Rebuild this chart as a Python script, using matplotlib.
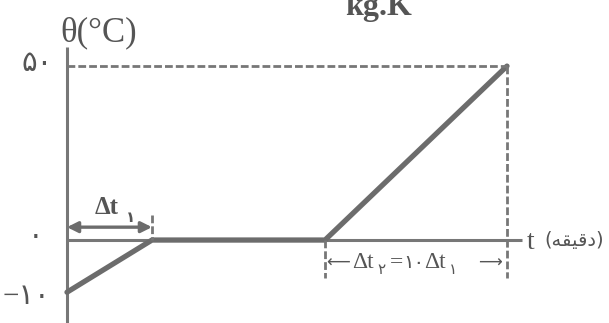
"""
Heating curve of ice: temperature vs time (schematic textbook figure).

Renders out.png (609x323 px).
"""

import matplotlib

matplotlib.use("Agg")
import matplotlib.pyplot as plt
import numpy as np

# ------------------------------------------------------------------ #
# data (time in units of dt1, temperature in C)
times = [0.0, 1.0, 3.035, 5.176]
temps = [-10, 0, 0, 50]

tick_values = [50, 0, -10]
tick_labels = ["۵۰", "۰", "−۱۰"]

x_unit = "t"
x_unit_fa = "(\uFEEA\uFED8\uFEF4\uFED7\uFEA9)"   # (دقیقه) in visual order
y_label = "θ(°C)"

# negative temperatures are drawn stretched in the original sketch
NEG_STRETCH = 1.5

LINE = "#6c6c6c"
DASH = "#777777"
TEXT = "#555555"
SERIF = ["Liberation Serif", "DejaVu Sans"]
SANS = ["DejaVu Sans"]


def forward(y):
    y = np.asarray(y, dtype=float)
    return np.where(y >= 0, y, y * NEG_STRETCH)


def inverse(y):
    y = np.asarray(y, dtype=float)
    return np.where(y >= 0, y, y / NEG_STRETCH)


def main() -> None:
    fig = plt.figure(figsize=(6.09, 3.23), dpi=100)
    ax = fig.add_axes([0, 0, 1, 1])
    ax.set_yscale("function", functions=(forward, inverse))
    ax.set_xlim(-0.788, 6.376)
    ax.set_ylim(-15.9, 69.0)
    ax.axis("off")

    t0, t_ice, t_melt, t_end = times
    top = temps[-1]

    # axes drawn as plain lines
    ax.plot([0, 0], [-15.9, 55.5], color=DASH, lw=2.2, solid_capstyle="butt")
    ax.plot([0, 5.35], [0, 0], color=DASH, lw=2.2, solid_capstyle="butt")

    # heating curve
    ax.plot(times, temps, color=LINE, lw=3.8, solid_capstyle="round",
            solid_joinstyle="round")

    # dashed guides
    dash = (0, (2.8, 1.1))
    ax.plot([0, t_end], [top, top], color=DASH, lw=2.0, ls=dash)
    ax.plot([t_end, t_end], [top, -7.3], color=DASH, lw=2.0, ls=dash)
    ax.plot([t_melt, t_melt], [0, -7.3], color=DASH, lw=2.0, ls=dash)
    ax.plot([t_ice, t_ice], [7.2, 0], color=DASH, lw=2.0, ls=dash)

    # delta t1 double arrow
    ax.annotate("", xy=(t_ice, 3.7), xytext=(t0, 3.7),
                arrowprops=dict(arrowstyle="<|-|>", color=LINE, lw=2.4,
                                mutation_scale=16, shrinkA=0, shrinkB=0))
    ax.text(0.33, 9.4, "Δt", family=SERIF, fontsize=18, weight="bold",
            color=TEXT, ha="left", va="center")
    ax.text(0.69, 6.6, "۱", family=SANS, fontsize=11, weight="bold",
            color=TEXT, ha="left", va="center")

    # y tick labels
    offsets = {50: (-0.165, 50.6), 0: (-0.28, 0.9), -10: (-0.2, -10.9)}
    for val, lab in zip(tick_values, tick_labels):
        x, y = offsets[val]
        ax.text(x, y, lab, family=SERIF, fontsize=21, color=TEXT,
                ha="right", va="center")

    ax.text(0.376, 59.5, y_label, family=SERIF, fontsize=25, color=TEXT,
            ha="center", va="center")
    ax.text(3.27, 64.6, "kg.K", family=SERIF, fontsize=23, weight="bold",
            color=TEXT, ha="left", va="baseline")

    # x axis label
    ax.text(5.41, -0.38, x_unit, family=SERIF, fontsize=20, color=TEXT,
            ha="left", va="center")
    ax.text(5.62, 0.0, x_unit_fa, family=SANS, fontsize=14, color=TEXT,
            ha="left", va="center")

    # delta t2 = 10 delta t1
    y_mid, y_sub = -4.4, -5.6
    pieces = [
        (3.05, y_mid, "⟵", SANS, 12),
        (3.35, y_mid, "Δt", SERIF, 17),
        (3.65, y_sub, "۲", SANS, 11),
        (3.80, y_mid, "=", SERIF, 17),
        (3.96, y_mid, "۱۰", SANS, 14),
        (4.20, y_mid, "Δt", SERIF, 17),
        (4.49, y_sub, "۱", SANS, 11),
        (4.84, y_mid, "⟶", SANS, 12),
    ]
    for x, y, s, fam, size in pieces:
        ax.text(x, y, s, family=fam, fontsize=size, color=TEXT,
                ha="left", va="center")

    fig.savefig("out.png", dpi=100)
    plt.close(fig)


if __name__ == "__main__":
    main()
